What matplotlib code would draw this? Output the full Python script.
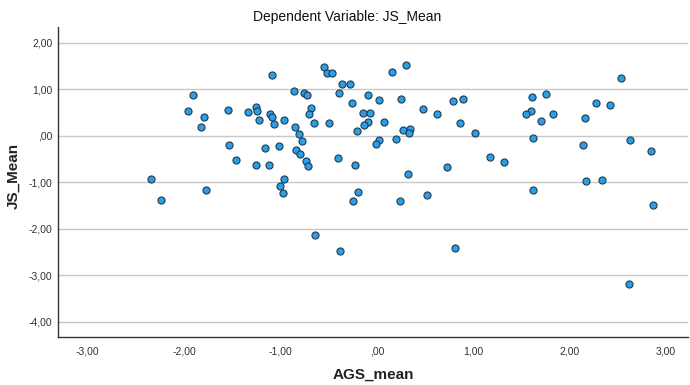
import matplotlib
matplotlib.use("Agg")
import matplotlib.pyplot as plt

plt.rcParams["font.family"] = ["Liberation Sans", "DejaVu Sans"]

# AGS_mean (x) and JS_Mean (y)
ags_mean = [
    -1.09, -0.86, -1.91, -1.96, -1.79, -1.83, -1.54, -1.34, -1.25, -1.24,
    -1.22, -1.11, -1.09, -1.07, -0.96, -0.85, -0.81, -1.53, -1.46, -1.16,
    -1.02, -0.84, -0.80, -1.25, -1.12, -2.34, -0.96, -1.00, -0.97, -1.77,
    -2.24,
    -0.55, -0.52, -0.47, -0.36, -0.28, 0.16, 0.30, -0.76, -0.72, -0.39,
    -0.09, 0.02, 0.25, 0.79, -0.26, -0.68, -0.70, -0.65, -0.50, -0.14,
    -0.07, -0.09, -0.13, 0.07, 0.48, 0.62, 0.86, -0.21, -0.78, -0.74,
    -0.71, -0.40, -0.23, 0.02, -0.01, 0.20, 0.27, 0.34, 0.33, 0.32,
    0.73, -0.19, -0.25, 0.24, 0.52,
    0.89, 1.02, 1.18, 1.32, 1.61, 1.60, 1.55, 1.76, 1.70, 1.83,
    1.62, 1.62, 2.16, 2.14, 2.17, 2.34, 2.28, 2.42, 2.54, 2.63,
    2.85, 2.87,
    -0.64, -0.38, 0.81, 2.62,
]
js_mean = [
    1.30, 0.97, 0.87, 0.54, 0.41, 0.18, 0.55, 0.52, 0.62, 0.54,
    0.35, 0.46, 0.40, 0.26, 0.33, 0.19, 0.04, -0.19, -0.52, -0.27,
    -0.22, -0.31, -0.40, -0.62, -0.62, -0.93, -0.92, -1.07, -1.23, -1.16,
    -1.38,
    1.48, 1.35, 1.35, 1.11, 1.11, 1.38, 1.53, 0.91, 0.87, 0.92,
    0.87, 0.77, 0.79, 0.74, 0.71, 0.59, 0.46, 0.27, 0.27, 0.50,
    0.50, 0.29, 0.23, 0.29, 0.57, 0.47, 0.28, 0.10, -0.12, -0.53,
    -0.64, -0.47, -0.63, -0.09, -0.18, -0.07, 0.12, 0.15, 0.06, -0.83,
    -0.67, -1.20, -1.41, -1.41, -1.28,
    0.80, 0.06, -0.46, -0.57, 0.83, 0.54, 0.46, 0.89, 0.32, 0.46,
    -0.04, -1.16, 0.38, -0.19, -0.97, -0.95, 0.70, 0.67, 1.24, -0.09,
    -0.32, -1.48,
    -2.14, -2.47, -2.40, -3.19,
]

x_ticks = [-3, -2, -1, 0, 1, 2, 3]
x_tick_labels = ["-3,00", "-2,00", "-1,00", ",00", "1,00", "2,00", "3,00"]
y_ticks = [2, 1, 0, -1, -2, -3, -4]
y_tick_labels = ["2,00", "1,00", ",00", "-1,00", "-2,00", "-3,00", "-4,00"]

fig = plt.figure(figsize=(6.9, 3.85), dpi=100)
ax = fig.add_axes([0.084, 0.125, 0.913, 0.805])

ax.scatter(ags_mean, js_mean, s=26, facecolor="#2b9fe6", edgecolor="#1f3a52",
           linewidth=0.8, zorder=3)

ax.set_xlim(-3.31, 3.23)
ax.set_ylim(-4.32, 2.34)
ax.set_xticks(x_ticks, x_tick_labels)
ax.set_yticks(y_ticks, y_tick_labels)
ax.tick_params(length=0, labelsize=7.5, colors="#333333")
ax.tick_params(axis="x", pad=7)
ax.tick_params(axis="y", pad=4)
ax.grid(axis="y", color="#c8c8c8", linewidth=1.0, zorder=0)
ax.grid(axis="x", visible=False)

for side in ("top", "right"):
    ax.spines[side].set_visible(False)
for side in ("left", "bottom"):
    ax.spines[side].set_color("#333333")
    ax.spines[side].set_linewidth(1.0)

ax.set_xlabel("AGS_mean", fontsize=11, fontweight="bold", color="#222222", labelpad=8)
ax.set_ylabel("JS_Mean", fontsize=11, fontweight="bold", color="#222222")
ax.yaxis.set_label_coords(-0.059, 0.52)
fig.suptitle("Dependent Variable: JS_Mean", x=0.503, y=0.956, va="center",
             fontsize=10, color="#111111")

fig.savefig("out.png", dpi=100, facecolor="white")
